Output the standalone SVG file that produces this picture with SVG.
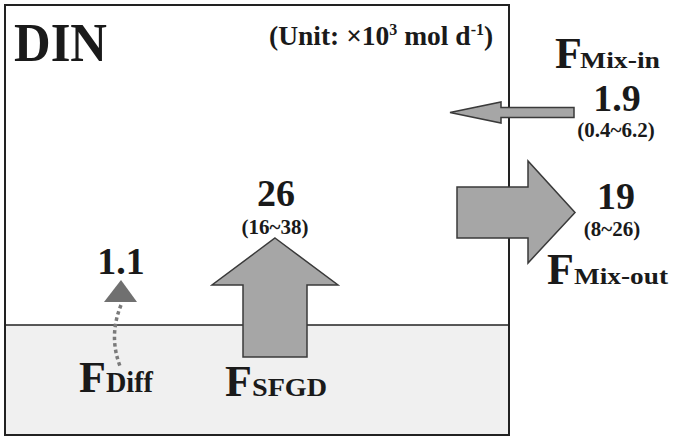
<svg xmlns="http://www.w3.org/2000/svg" width="675" height="441" viewBox="0 0 675 441">
<style>
text{font-family:"Liberation Serif","Times New Roman",serif;font-weight:bold;fill:#1a1a1a}
.big{font-size:44px}
.sub{font-size:24px}
.num{font-size:38px;text-anchor:middle}
.rng{font-size:21px;text-anchor:middle}
.arr{fill:#a6a6a6;stroke:#3a3a3a;stroke-width:1.5;stroke-linejoin:miter}
</style>
<rect x="0" y="0" width="675" height="441" fill="#ffffff"/>
<g id="box">
<rect x="5" y="325" width="504" height="110" fill="#f0f0f0"/>
<rect x="5" y="5" width="504" height="430" fill="none" stroke="#222" stroke-width="2"/>
<line x1="5" y1="325" x2="509" y2="325" stroke="#222" stroke-width="1.5"/>
</g>
<g id="title">
<text x="14" y="61" font-size="54" textLength="93" lengthAdjust="spacingAndGlyphs">DIN</text>
<text x="269" y="45" font-size="27.5">(Unit: ×10<tspan font-size="16" dy="-10">3</tspan><tspan dy="10"> mol d</tspan><tspan font-size="16" dy="-10">-1</tspan><tspan dy="10">)</tspan></text>
</g>
<g id="connectors">
<polygon class="arr" points="574,107.5 501,107.5 501,102 450,112.5 501,123 501,117.5 574,117.5"/>
<polygon class="arr" points="457,187 528,187 528,161 575,212.5 528,263 528,238 457,238"/>
<polygon class="arr" points="275,238 338,285 307,285 307,357 243,357 243,285 212,285"/>
<polygon points="121,280 137,302 104,302" fill="#707070"/>
<path d="M121,305 C113,325 112,345 120,366" fill="none" stroke="#7a7a7a" stroke-width="3.5" stroke-dasharray="3.5,3"/>
</g>
<g id="mix-in">
<text class="big" x="555" y="68">F</text>
<text class="sub" x="580" y="68" textLength="80" lengthAdjust="spacingAndGlyphs">Mix-in</text>
<text class="num" x="617" y="111">1.9</text>
<text class="rng" x="616" y="137">(0.4~6.2)</text>
</g>
<g id="mix-out">
<text class="num" x="616" y="209">19</text>
<text class="rng" x="612" y="236">(8~26)</text>
<text class="big" x="547" y="284">F</text>
<text class="sub" x="574" y="284" textLength="94" lengthAdjust="spacingAndGlyphs">Mix-out</text>
</g>
<g id="sfgd">
<text class="num" x="276" y="206">26</text>
<text class="rng" x="275" y="234">(16~38)</text>
<text class="big" x="225" y="396">F</text>
<text class="sub" x="252" y="396" style="font-size:26px" textLength="75" lengthAdjust="spacingAndGlyphs">SFGD</text>
</g>
<g id="diff">
<text class="num" x="121" y="274">1.1</text>
<text class="big" x="79" y="392">F</text>
<text class="sub" x="106" y="392" style="font-size:29px" textLength="47" lengthAdjust="spacingAndGlyphs">Diff</text>
</g>
</svg>
